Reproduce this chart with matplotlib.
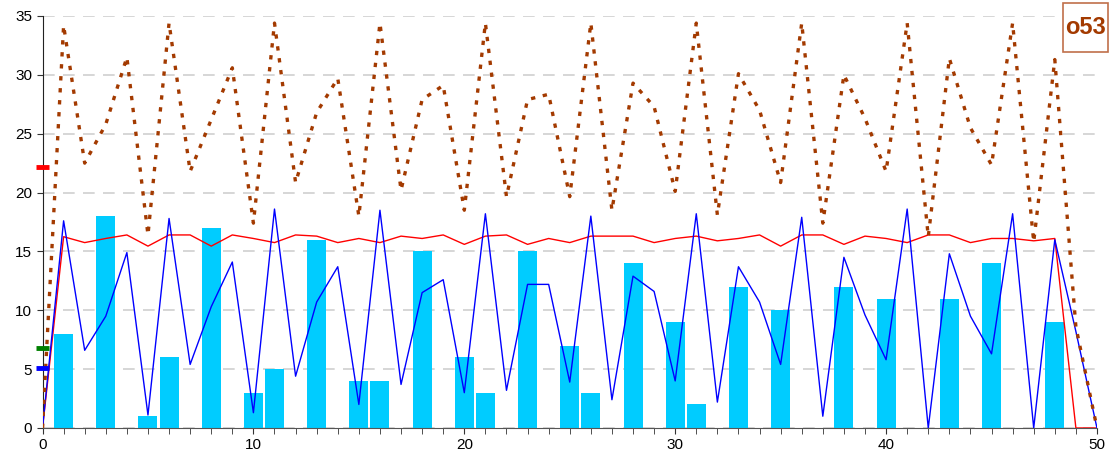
import matplotlib
matplotlib.use("Agg")
import matplotlib.pyplot as plt
import numpy as np
from matplotlib.patches import Rectangle

plt.rcParams["font.family"] = ["Liberation Sans", "DejaVu Sans"]

# bar series (cyan)
bar_x = [1, 3, 5, 6, 8, 10, 11, 13, 15, 16, 18, 20, 21, 23, 25, 26, 28, 30, 31, 33, 35, 38, 40, 43, 45, 48]
bar_vals = [8, 18, 1, 6, 17, 3, 5, 16, 4, 4, 15, 6, 3, 15, 7, 3, 14, 9, 2, 12, 10, 12, 11, 11, 14, 9]

x = list(range(51))

blue = [0, 17.6, 6.6, 9.5, 14.9, 1.1, 17.8, 5.4, 10.3, 14.1,
        1.3, 18.6, 4.4, 10.7, 13.7, 2.0, 18.5, 3.7, 11.5, 12.6,
        3.0, 18.2, 3.2, 12.2, 12.2, 3.9, 18.0, 2.4, 12.9, 11.6,
        4.0, 18.2, 2.2, 13.7, 10.7, 5.4, 17.9, 1.0, 14.5, 9.6,
        5.8, 18.6, 0.0, 14.8, 9.5, 6.3, 18.2, 0.0, 16.0, 8.2, 0]

red = [0, 16.25, 15.75, 16.1, 16.4, 15.45, 16.4, 16.4, 15.45, 16.4,
       16.1, 15.75, 16.4, 16.3, 15.75, 16.1, 15.75, 16.3, 16.1, 16.4,
       15.6, 16.3, 16.4, 15.6, 16.1, 15.75, 16.3, 16.3, 16.3, 15.75,
       16.1, 16.3, 15.9, 16.1, 16.4, 15.45, 16.4, 16.4, 15.6, 16.3,
       16.1, 15.75, 16.4, 16.4, 15.75, 16.1, 16.1, 15.9, 16.1, 0, 0]

brown = [0, 34.2, 22.5, 25.8, 31.5, 16.4, 34.4, 21.8, 26.2, 30.6,
         17.4, 34.4, 20.85, 26.8, 29.7, 18.0, 34.4, 20.2, 27.9, 29.1,
         18.5, 34.4, 19.65, 27.9, 28.35, 19.65, 34.4, 18.5, 29.3, 27.3,
         20.1, 34.4, 18.1, 30.1, 27.0, 20.85, 34.4, 17.4, 30.0, 26.3,
         21.8, 34.4, 16.25, 31.4, 25.5, 22.35, 34.4, 15.8, 31.3, 8.6, 0]

# short level marks on the y axis
level_vals = [22.2, 6.8, 5.1]
level_colors = ["#FF0000", "#008000", "#0000FF"]

label = "o53"
BROWN = "#A33A00"

fig = plt.figure(figsize=(11.13, 4.61), dpi=100)
ax = fig.add_axes([0.0382, 0.0716, 0.9474, 0.8937])

ax.bar(bar_x, bar_vals, width=0.9, color="#00CCFF", edgecolor="none", zorder=2)
ax.plot(x, red, color="#FF0000", lw=1.0, zorder=3)
ax.plot(x, blue, color="#0000FF", lw=1.0, zorder=4)
ax.plot(x, brown, color=BROWN, lw=2.4, linestyle=(0, (1.3, 2.3)), zorder=5)

trans = ax.get_yaxis_transform()
for v, c in zip(level_vals, level_colors):
    ax.plot([-0.006, 0.0065], [v, v], color=c, lw=3.5, transform=trans,
            clip_on=False, solid_capstyle="butt", zorder=6)

ax.set_xlim(0, 50)
ax.set_ylim(0, 35)
ax.set_yticks(np.arange(0, 36, 5))
ax.set_xticks(np.arange(0, 51, 10))
ax.set_xticks(np.arange(0, 51, 1), minor=True)
ax.tick_params(axis="both", labelsize=11, length=4, color="#333333", direction="out")
ax.tick_params(axis="x", which="minor", length=4, color="#333333")
ax.yaxis.grid(True, color="#D0D0D0", linestyle=(0, (7, 5)), lw=1.2, zorder=0)
ax.set_axisbelow(True)
for s in ("top", "right"):
    ax.spines[s].set_visible(False)
ax.spines["left"].set_color("#222222")
ax.spines["bottom"].set_color("#555555")

fig.patches.append(Rectangle((1063 / 1113, 1 - 52 / 461), 45 / 1113, 49 / 461,
                             transform=fig.transFigure, facecolor="white",
                             edgecolor="#C0704A", lw=1.2))
fig.text(1085.5 / 1113, 1 - 27 / 461, label, ha="center", va="center",
         fontsize=17, fontweight="bold", color=BROWN)

fig.savefig("out.png", dpi=100)
